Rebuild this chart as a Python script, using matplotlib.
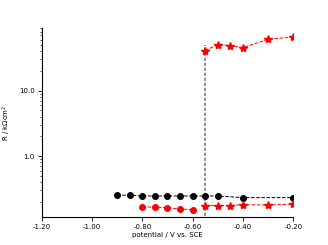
import numpy as np
import matplotlib
matplotlib.use('Agg')
import matplotlib.pyplot as plt
from matplotlib.ticker import FormatStrFormatter, LogLocator

# black circles
x_black = [-0.90, -0.85, -0.80, -0.75, -0.70, -0.65, -0.60, -0.55, -0.50, -0.40, -0.20]
y_black = [0.253, 0.251, 0.245, 0.245, 0.245, 0.245, 0.245, 0.245, 0.245, 0.231, 0.231]

# red circles
x_red_c = [-0.80, -0.75, -0.70, -0.65, -0.60]
y_red_c = [0.167, 0.165, 0.162, 0.154, 0.152]

# red stars, low branch
x_star_lo = [-0.55, -0.50, -0.45, -0.40, -0.30, -0.20]
y_star_lo = [0.173, 0.175, 0.175, 0.180, 0.178, 0.184]

# red stars, high branch
x_star_hi = [-0.55, -0.50, -0.45, -0.40, -0.30, -0.20]
y_star_hi = [41.0, 50.6, 48.8, 45.5, 61.0, 66.0]

x_vline = -0.55
y_vline_top = 50.0

fig = plt.figure(figsize=(3.28, 2.45), dpi=100)
ax = fig.add_axes([0.127, 0.1155, 0.767, 0.7705])

ax.plot([x_vline, x_vline], [0.05, y_vline_top], color='gray', ls='--', lw=1.2,
        dashes=(2, 1), zorder=1)
ax.plot(x_black, y_black, 'o--', color='black', ms=4, lw=0.7, zorder=3)
ax.plot(x_red_c, y_red_c, 'o--', color='red', ms=4, lw=0.7, zorder=3)
ax.plot(x_star_lo, y_star_lo, '*--', color='red', ms=6, lw=0.7, zorder=3)
ax.plot(x_star_hi, y_star_hi, '*--', color='red', ms=6, lw=0.7, zorder=3)

ax.set_yscale('log')
ax.set_xlim(-1.2, -0.2)
ax.set_ylim(0.118, 91)
ax.set_xticks([-1.2, -1.0, -0.8, -0.6, -0.4, -0.2])
ax.xaxis.set_major_formatter(FormatStrFormatter('%.2f'))
ax.yaxis.set_major_locator(LogLocator(base=10))
ax.yaxis.set_major_formatter(FormatStrFormatter('%.1f'))
ax.yaxis.set_minor_formatter(plt.NullFormatter())

for s in ['top', 'right']:
    ax.spines[s].set_visible(False)
ax.spines['left'].set_linewidth(0.8)
ax.spines['bottom'].set_linewidth(0.8)
ax.tick_params(labelsize=5, length=3, width=0.6, pad=2)
ax.tick_params(which='minor', length=1.5, width=0.5)

ax.set_xlabel('potential / V vs. SCE', fontsize=5, labelpad=2)
ax.set_ylabel(r'R / k$\Omega$cm$^2$', fontsize=5)
ax.yaxis.set_label_coords(-0.113, 0.5)

fig.savefig('out.png', dpi=100)
